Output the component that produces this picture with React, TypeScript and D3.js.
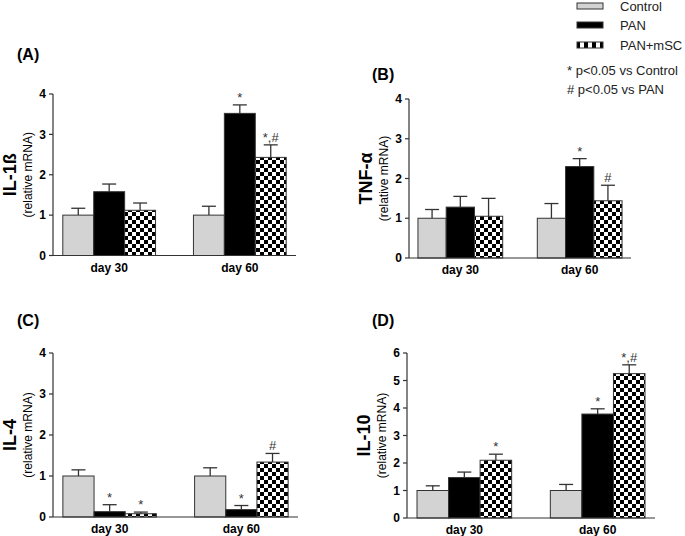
import React from "react";
import * as d3 from "d3";

const groups = ["day 30", "day 60"];
const series = ["Control", "PAN", "PAN+mSC"];

// values [group][series], errors (upper value of error bar)
const il1bMean = [[1.0, 1.58, 1.12], [1.0, 3.52, 2.43]];
const il1bErr = [[1.17, 1.77, 1.3], [1.22, 3.73, 2.74]];
const il1bSig = [["", "", ""], ["", "*", "*,#"]];

const tnfMean = [[1.0, 1.28, 1.05], [1.0, 2.3, 1.44]];
const tnfErr = [[1.22, 1.55, 1.5], [1.37, 2.5, 1.83]];
const tnfSig = [["", "", ""], ["", "*", "#"]];

const il4Mean = [[1.0, 0.13, 0.08], [1.0, 0.18, 1.34]];
const il4Err = [[1.15, 0.3, 0.12], [1.2, 0.28, 1.55]];
const il4Sig = [["", "*", "*"], ["", "*", "#"]];

const il10Mean = [[1.0, 1.47, 2.1], [1.0, 3.78, 5.25]];
const il10Err = [[1.17, 1.67, 2.32], [1.22, 3.97, 5.57]];
const il10Sig = [["", "", "*"], ["", "*", "*,#"]];

const panels = [
  { tag: "(A)", title: "IL-1ß", mean: il1bMean, err: il1bErr, sig: il1bSig, yMax: 4, x0: 53, x1: 296, yB: 255.5, yT: 94, tagX: 17, tagY: 60 },
  { tag: "(B)", title: "TNF-α", mean: tnfMean, err: tnfErr, sig: tnfSig, yMax: 4, x0: 409, x1: 631, yB: 258, yT: 99, tagX: 372, tagY: 80 },
  { tag: "(C)", title: "IL-4", mean: il4Mean, err: il4Err, sig: il4Sig, yMax: 4, x0: 53, x1: 298, yB: 517, yT: 353, tagX: 17, tagY: 326 },
  { tag: "(D)", title: "IL-10", mean: il10Mean, err: il10Err, sig: il10Sig, yMax: 6, x0: 407, x1: 655, yB: 518, yT: 353, tagX: 372, tagY: 326 },
];

const FONT = "Liberation Sans, Arial, sans-serif";
const fills = ["#d3d3d3", "#000000", "url(#checker)"];
const AX = "#333";

function Panel({ p }: { p: typeof panels[number] }) {
  const y = d3.scaleLinear().domain([0, p.yMax]).range([p.yB, p.yT]);
  const gx = d3.scaleBand<string>().domain(groups).range([p.x0, p.x1]).paddingInner(0.29).paddingOuter(0.075);
  const sx = d3.scaleBand<string>().domain(series).range([0, gx.bandwidth()]).padding(0);
  const ticks = d3.range(0, p.yMax + 1);
  const midY = (p.yB + p.yT) / 2;
  return (
    <g>
      <text x={p.tagX} y={p.tagY} fontFamily={FONT} fontWeight="bold" fontSize={16}>{p.tag}</text>
      <text transform={`translate(${p.x0 - 37},${midY}) rotate(-90)`} textAnchor="middle" fontFamily={FONT} fontWeight="bold" fontSize={18}>{p.title}</text>
      <text transform={`translate(${p.x0 - 21},${midY}) rotate(-90)`} textAnchor="middle" fontFamily={FONT} fontSize={12}>(relative mRNA)</text>
      {groups.map((g, gi) =>
        series.map((s, si) => {
          const bx = (gx(g) as number) + (sx(s) as number);
          const w = sx.bandwidth();
          const v = p.mean[gi][si];
          const e = p.err[gi][si];
          const cx = bx + w / 2;
          return (
            <g key={g + s}>
              <line x1={cx} x2={cx} y1={y(v)} y2={y(e)} stroke={AX} strokeWidth={1.3} />
              <line x1={cx - 7} x2={cx + 7} y1={y(e)} y2={y(e)} stroke={AX} strokeWidth={1.3} />
              <rect x={bx} y={y(v)} width={w} height={p.yB - y(v)} fill={fills[si]} stroke={AX} strokeWidth={1} />
              {p.sig[gi][si] && (
                <text x={cx} y={y(e) - 3} textAnchor="middle" fontFamily={FONT} fontSize={13} fill="#333">{p.sig[gi][si]}</text>
              )}
            </g>
          );
        })
      )}
      <line x1={p.x0} x2={p.x0} y1={p.yB} y2={p.yT} stroke={AX} strokeWidth={1.2} />
      <line x1={p.x0} x2={p.x1} y1={p.yB} y2={p.yB} stroke={AX} strokeWidth={1.2} />
      {ticks.map((t) => (
        <g key={t}>
          <line x1={p.x0 - 4} x2={p.x0} y1={y(t)} y2={y(t)} stroke={AX} strokeWidth={1.2} />
          <text x={p.x0 - 7} y={y(t)} dy="0.35em" textAnchor="end" fontFamily={FONT} fontWeight="bold" fontSize={12}>{t}</text>
        </g>
      ))}
      {groups.map((g) => (
        <text key={g} x={(gx(g) as number) + gx.bandwidth() / 2} y={p.yB + 16} textAnchor="middle" fontFamily={FONT} fontWeight="bold" fontSize={12}>{g}</text>
      ))}
    </g>
  );
}

export default function App() {
  const legendY = [6, 25, 45];
  return (
    <svg width={685} height={536} style={{ position: "absolute", left: 0, top: 0, background: "#fff" }}>
      <defs>
        <pattern id="checker" width={8} height={8} patternUnits="userSpaceOnUse">
          <rect width={8} height={8} fill="#fff" />
          <rect width={4} height={4} fill="#000" />
          <rect x={4} y={4} width={4} height={4} fill="#000" />
        </pattern>
        <pattern id="checkerL" width={8} height={8} patternUnits="userSpaceOnUse">
          <rect width={8} height={8} fill="#fff" />
          <rect width={4} height={8} fill="#000" />
        </pattern>
      </defs>
      <rect width={685} height={536} fill="#fff" />
      {panels.map((p) => <Panel key={p.tag} p={p} />)}
      {series.map((s, i) => (
        <g key={s}>
          <rect x={577} y={legendY[i] - 3} width={26} height={6} fill={i === 2 ? "url(#checkerL)" : fills[i]} stroke={AX} strokeWidth={1} />
          <text x={620} y={legendY[i]} dy="0.35em" fontFamily={FONT} fontSize={13} fill="#222">{s}</text>
        </g>
      ))}
      <text x={567} y={70} dy="0.35em" fontFamily={FONT} fontSize={13} fill="#222">* p&lt;0.05 vs Control</text>
      <text x={567} y={89} dy="0.35em" fontFamily={FONT} fontSize={13} fill="#222"># p&lt;0.05 vs PAN</text>
    </svg>
  );
}
